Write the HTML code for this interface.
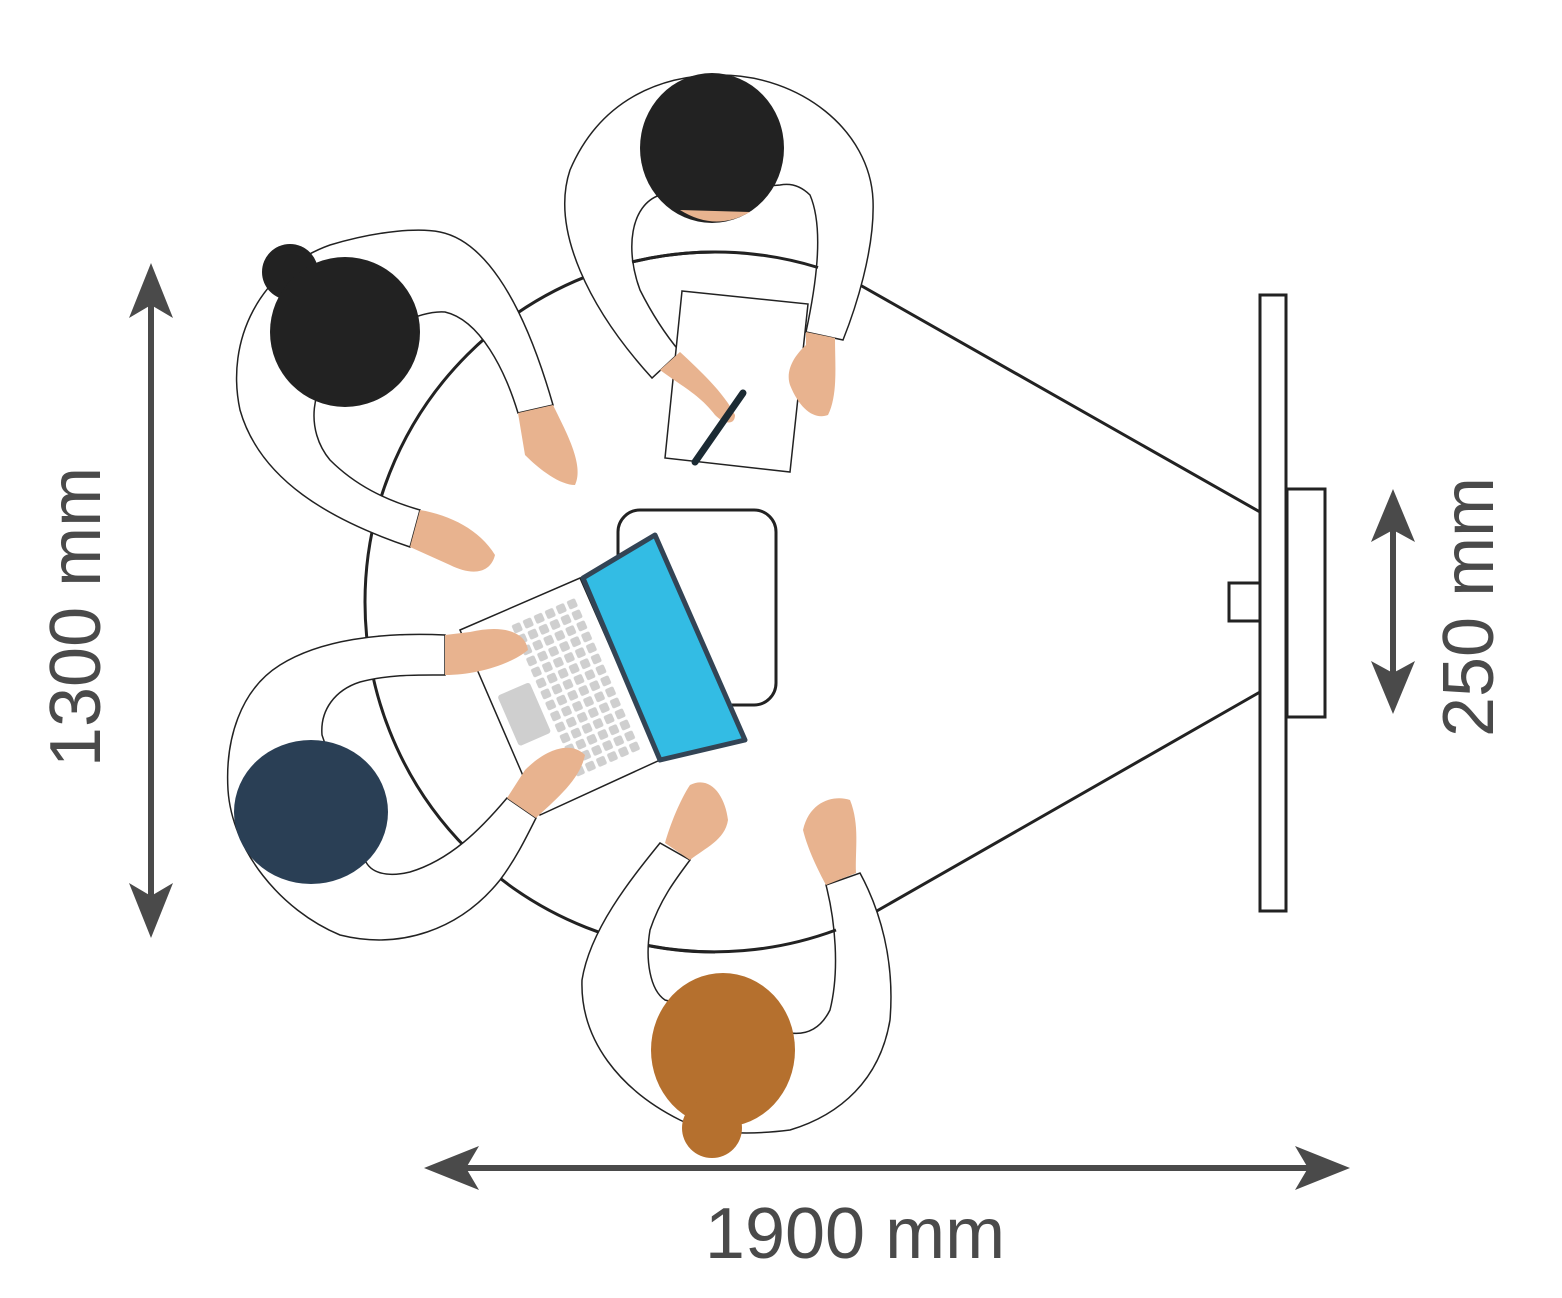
<!DOCTYPE html>
<html><head><meta charset="utf-8"><style>
html,body{margin:0;padding:0;background:#fff;}
svg{display:block;}
text{font-family:"Liberation Sans",sans-serif;fill:#4a4a4a;}
</style></head><body>
<svg width="1562" height="1298" viewBox="0 0 1562 1298" xmlns="http://www.w3.org/2000/svg">
<defs>
<pattern id="keys" x="0" y="0" width="12" height="12" patternUnits="userSpaceOnUse">
<rect x="1" y="1" width="9" height="9" rx="2" fill="#cfcfcf"/>
</pattern>
</defs>
<!-- table -->
<path d="M860,285 L1260,512 M875,912 L1260,692" stroke="#222" stroke-width="3" fill="none"/>
<path d="M715,252 A350,350 0 0 0 715,952" stroke="#222" stroke-width="3" fill="none"/>
<!-- chair -->
<rect x="618" y="510" width="158" height="195" rx="22" fill="#fff" stroke="#222" stroke-width="3"/>
<!-- display -->
<rect x="1260" y="295" width="26" height="616" fill="#fff" stroke="#222" stroke-width="3"/>
<rect x="1287" y="489" width="38" height="228" fill="#fff" stroke="#222" stroke-width="3"/>
<rect x="1229" y="583" width="31" height="38" fill="#fff" stroke="#222" stroke-width="3"/>
<!-- dimension arrows -->
<g fill="#4a4a4a" stroke="none">
<rect x="148" y="300" width="6" height="600"/>
<polygon points="151,263 129,318 151,305 173,318"/>
<polygon points="151,938 129,883 151,896 173,883"/>
<rect x="460" y="1165" width="855" height="6"/>
<polygon points="424,1168 479,1146 466,1168 479,1190"/>
<polygon points="1350,1168 1295,1146 1308,1168 1295,1190"/>
<rect x="1390" y="520" width="6" height="165"/>
<polygon points="1393,489 1371,542 1393,530 1415,542"/>
<polygon points="1393,714 1371,661 1393,673 1415,661"/>
</g>
<text x="0" y="0" font-size="72" text-anchor="middle" transform="translate(100,617) rotate(-90)">1300 mm</text>
<text x="0" y="0" font-size="72" text-anchor="middle" transform="translate(1493,607) rotate(-90)">250 mm</text>
<text x="855" y="1258" font-size="72" text-anchor="middle">1900 mm</text>

<g stroke="#222" stroke-width="1.5" fill="#fff">
<path d="M652,378 C590,310 550,230 570,170 C600,100 660,75 720,75 C800,75 870,130 873,200 C875,250 855,310 843,340 L806,332 C815,290 825,230 810,195 C800,185 790,183 780,185 L660,195 C630,205 625,250 640,290 C655,320 670,340 680,352 Z"/>
<polygon points="682,291 808,304 790,472 665,458"/>
<path d="M410,547 C330,520 260,480 240,410 C225,340 260,270 330,245 C380,230 420,228 440,232 C480,240 520,290 553,405 L518,413 C505,370 480,320 445,312 C420,310 380,330 340,360 C310,385 305,430 330,460 C355,485 385,500 420,510 Z"/>
<path d="M445,635 C380,632 320,640 280,665 C240,690 225,740 228,790 C232,850 280,910 340,935 C400,950 460,930 500,880 C515,860 525,840 536,818 L507,798 C480,830 450,860 410,872 C385,878 370,872 365,860 L322,735 C320,710 335,690 360,682 C390,674 420,675 445,675 Z"/>
<path d="M660,843 C630,880 590,930 582,980 C580,1040 620,1090 680,1120 C710,1135 750,1135 790,1130 C840,1115 880,1080 890,1020 C895,960 880,910 860,873 L826,885 C835,920 840,970 830,1010 C820,1030 805,1035 790,1033 L665,1000 C650,990 645,960 650,930 C660,900 675,880 690,860 Z"/>
</g>
<!-- table edge segments visible through torsos -->
<path d="M632,262 A350,350 0 0 1 818,267.5" stroke="#222" stroke-width="3" fill="none"/>
<path d="M648,945.5 A350,350 0 0 0 836,930" stroke="#222" stroke-width="3" fill="none"/>
<!-- laptop -->
<polygon points="460,630 580,578 660,760 540,815" fill="#fff" stroke="#222" stroke-width="1.5"/>
<g transform="translate(510,625) rotate(-23.5)">
<rect x="0" y="0" width="72" height="168" fill="url(#keys)"/>
<rect x="-40" y="60" width="35" height="55" rx="3" fill="#cfcfcf"/>
</g>
<polygon points="583,578 655,535 745,740 660,760" fill="#33bce4" stroke="#334455" stroke-width="5" stroke-linejoin="round"/>
<!-- heads -->
<ellipse cx="712" cy="148" rx="72" ry="75" fill="#222"/>
<path d="M680,210 Q715,232 750,212 Z" fill="#e8b38f"/>
<circle cx="290" cy="272" r="28" fill="#222"/>
<ellipse cx="345" cy="332" rx="75" ry="75" fill="#222"/>
<ellipse cx="311" cy="812" rx="77" ry="72" fill="#2a3f55"/>
<ellipse cx="723" cy="1050" rx="72" ry="77" fill="#b5702e"/>
<circle cx="712" cy="1128" r="30" fill="#b5702e"/>
<!-- hands -->
<g fill="#e8b38f">
<path d="M660,370 C680,385 700,395 715,415 C725,425 735,425 735,415 C725,395 705,375 680,352 Z"/>
<path d="M806,332 L835,338 C835,365 838,395 828,415 C815,420 800,410 790,385 C785,370 795,355 806,345 Z"/>
<path d="M518,413 L553,405 C565,430 585,465 575,485 C560,485 540,470 525,455 Z"/>
<path d="M410,547 L420,510 C450,515 480,530 495,555 C490,575 470,575 450,565 Z"/>
<path d="M445,635 L445,675 C475,675 510,665 528,650 C525,630 500,625 470,632 Z"/>
<path d="M507,798 L536,818 C555,800 580,780 585,755 C570,740 545,750 525,770 Z"/>
<path d="M665,843 L690,860 C705,848 725,840 728,820 C725,795 710,775 690,785 C680,800 670,825 665,843 Z"/>
<path d="M826,885 L856,873 C855,850 860,825 850,800 C835,795 810,800 803,830 C808,850 818,870 826,885 Z"/>
</g>
<line x1="695" y1="462" x2="743" y2="393" stroke="#1b2a33" stroke-width="7" stroke-linecap="round"/>
</svg>
</body></html>
